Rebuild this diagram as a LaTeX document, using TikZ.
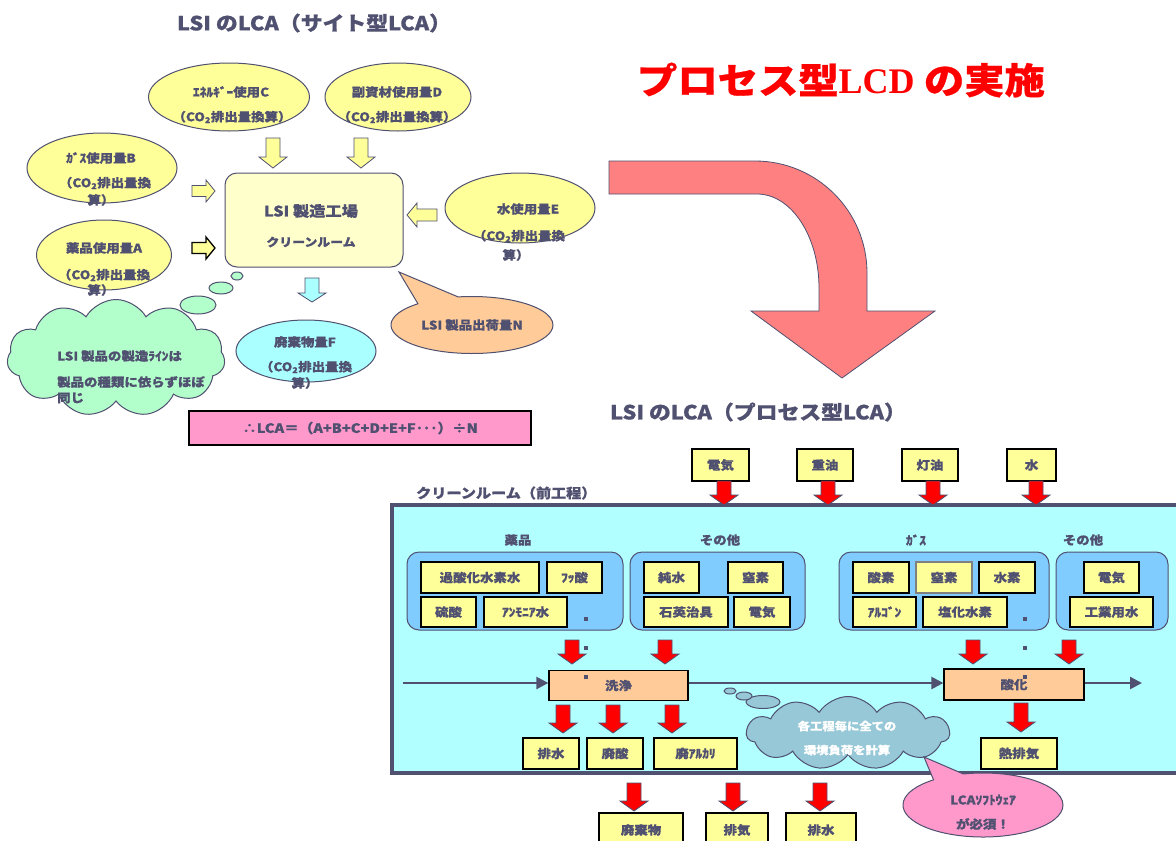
\documentclass[tikz,border=0pt]{standalone}
\usepackage{fontspec}
\setmainfont{Noto Sans CJK JP}[FakeStretch=1.12,BoldFeatures={FakeBold=0.8}]
\newfontfamily\timesb{Liberation Serif}
\usetikzlibrary{shapes.geometric,shapes.symbols,shapes.callouts,arrows.meta}
\definecolor{dk}{RGB}{80,80,112}
\definecolor{ellY}{RGB}{255,255,153}
\definecolor{boxY}{RGB}{255,255,204}
\definecolor{cyanA}{RGB}{170,255,255}
\definecolor{mint}{RGB}{179,255,204}
\definecolor{orangeN}{RGB}{255,204,153}
\definecolor{pinkF}{RGB}{255,153,204}
\definecolor{salmon}{RGB}{255,128,128}
\definecolor{room}{RGB}{178,255,255}
\definecolor{grp}{RGB}{128,204,255}
\definecolor{proc}{RGB}{255,204,153}
\definecolor{cloudB}{RGB}{150,200,215}
\begin{document}
\begin{tikzpicture}[x=1pt,y=-1pt,
  lbl/.style={text=dk,font=\bfseries\fontsize{12}{14}\selectfont,inner sep=0pt},
  ttl/.style={text=dk,font=\bfseries\fontsize{19.5}{22}\selectfont,inner sep=0pt},
  ell/.style={ellipse,draw=dk,line width=1pt,inner sep=0pt},
  ybox/.style={draw=black,line width=1.3pt,fill=ellY,inner sep=0pt,text=dk,
    font=\bfseries\fontsize{12}{14}\selectfont},
  grpbox/.style={draw=dk,line width=1pt,fill=grp,rounded corners=12pt,inner sep=0pt},
  procbox/.style={draw=black,line width=1.3pt,fill=proc,inner sep=0pt,text=dk,
    font=\bfseries\fontsize{12}{14}\selectfont},
  redarr/.style={fill=red,draw=dk,line width=0.8pt},
  yelarr/.style={fill=ellY,draw=dk,line width=0.8pt},
  flow/.style={draw=dk,line width=2.5pt,-{Triangle[length=12pt,width=12pt]}},
  pics/darrow/.style args={#1/#2/#3/#4}{code={%
    \path[pic actions] (-#2,0) -- (#2,0) -- (#2,{#1-#4}) -- (#3,{#1-#4}) -- (0,#1)
      -- (-#3,{#1-#4}) -- (-#2,{#1-#4}) -- cycle;}},
  pics/rarrow/.style args={#1/#2/#3/#4}{code={%
    \path[pic actions] (0,-#2) -- ({#1-#4},-#2) -- ({#1-#4},-#3) -- (#1,0)
      -- ({#1-#4},#3) -- ({#1-#4},#2) -- (0,#2) -- cycle;}},
  pics/larrow/.style args={#1/#2/#3/#4}{code={%
    \path[pic actions] (0,-#2) -- ({#4-#1},-#2) -- ({#4-#1},-#3) -- (-#1,0)
      -- ({#4-#1},#3) -- ({#4-#1},#2) -- (0,#2) -- cycle;}}
]
\useasboundingbox (0,0) rectangle (1176,841);
\clip (0,0) rectangle (1176,841);
\fill[white] (0,0) rectangle (1176,841);

%% ---------------- left part: site type LCA ----------------
\node[ttl] (t1) at (314,23) {LSI のLCA（サイト型LCA）};

\node[ell,fill=ellY,minimum width=161,minimum height=68] (C) at (229,97) {};
\node[lbl] (C1) at (231,92) {ｴﾈﾙｷﾞｰ使用C};
\node[lbl] (C2) at (232,117) {（CO\textsubscript{2}排出量換算）};

\node[ell,fill=ellY,minimum width=146,minimum height=68] (D) at (398,97) {};
\node[lbl] (D1) at (397,92) {副資材使用量D};
\node[lbl] (D2) at (397,117) {（CO\textsubscript{2}排出量換算）};

\node[ell,fill=ellY,minimum width=150,minimum height=70] (B) at (102,168) {};
\node[lbl] (B1) at (101,158) {ｶﾞｽ使用量B};
\node[lbl] (B2) at (105,183) {（CO\textsubscript{2}排出量換};
\node[lbl] (B3) at (101,200) {算）};

\node[ell,fill=ellY,minimum width=135,minimum height=70] (A) at (104,255) {};
\node[lbl] (A1) at (104,248) {薬品使用量A};
\node[lbl] (A2) at (104,275) {（CO\textsubscript{2}排出量換};
\node[lbl] (A3) at (101,290) {算）};

\node[ell,fill=ellY,minimum width=150,minimum height=70] (E) at (520,208) {};
\node[lbl] (E1) at (528,209) {水使用量E};
\node[lbl] (E2) at (519,236) {（CO\textsubscript{2}排出量換};
\node[lbl] (E3) at (516,255) {算）};

\node[draw=dk,line width=1pt,fill=boxY,rounded corners=12pt,minimum width=178,
  minimum height=94,inner sep=0pt] (fab) at (314,220) {};
\node[lbl,font=\bfseries\fontsize{14.5}{16}\selectfont] (fab1) at (311,211) {LSI 製造工場};
\node[lbl,font=\bfseries\fontsize{11.5}{14}\selectfont] (fab2) at (311,242) {クリーンルーム};

% block arrows into the factory
\pic[yelarr] at (273,138) {darrow=30/7/14/11};
\pic[yelarr] at (361,138) {darrow=30/7/14/11};
\pic[yelarr] at (192,191) {rarrow=23/5.5/11/9};
\pic[yelarr,draw=black,line width=1.3pt] at (192,248) {rarrow=23/5.5/11/9};
\pic[yelarr] at (437,215) {larrow=30/6/12/10};
\pic[fill=cyanA,draw=dk,line width=0.8pt] at (312,278) {darrow=24/7/14/9};

\node[ell,fill=cyanA,minimum width=140,minimum height=62] (F) at (306,351) {};
\node[lbl] (F1) at (305,342) {廃棄物量F};
\node[lbl] (F2) at (306,367) {（CO\textsubscript{2}排出量換};
\node[lbl] (F3) at (305,383) {算）};

\node[ellipse callout,callout absolute pointer={(399,272)},callout pointer arc=32,
  draw=dk,line width=1pt,fill=orangeN,minimum width=162,minimum height=57,inner sep=0pt,
  text=dk,font=\bfseries\fontsize{12}{14}\selectfont] (N) at (472,325) {LSI 製品出荷量N};

% green thought cloud
\node[cloud,cloud puffs=11,cloud puff arc=120,aspect=1.86,draw=dk,line width=1pt,
  fill=mint,minimum width=218,minimum height=117,inner sep=0pt] (gcl) at (116,358) {};
\node[ellipse,draw=dk,line width=1pt,fill=mint,minimum width=36,minimum height=18,inner sep=0pt] (gb3) at (198,305) {};
\node[ellipse,draw=dk,line width=1pt,fill=mint,minimum width=24,minimum height=12,inner sep=0pt] (gb2) at (221,288) {};
\node[ellipse,draw=dk,line width=1pt,fill=mint,minimum width=12,minimum height=8,inner sep=0pt] (gb1) at (237,276) {};
\node[lbl,anchor=west] (g1) at (57,356) {LSI 製品の製造ﾗｲﾝは};
\node[lbl,anchor=west] (g2) at (57,382) {製品の種類に依らずほぼ};
\node[lbl,anchor=west] (g3) at (57,398) {同じ};

\node[draw=black,line width=1.3pt,fill=pinkF,minimum width=342,minimum height=34,
  inner sep=0pt,text=dk,font=\bfseries\fontsize{13}{15}\selectfont] (form) at (360,428)
  {∴LCA＝（A+B+C+D+E+F･･･）÷N};

%% ---------------- big title and curved arrow ----------------
\node[text=red,inner sep=0pt,font=\bfseries\fontsize{36}{40}\selectfont] (big) at (841,80)
  {プロセス型{\timesb LCD} の実施};

\filldraw[fill=salmon,draw=dk,line width=0.8pt]
  (609,161) -- (755,161) arc[start angle=-90,end angle=0,radius=112]
  -- (867,311) -- (935,311) -- (842,378) -- (751,311) -- (819,311) -- (819,288)
  arc[start angle=0,end angle=-90,x radius=62,y radius=94]
  -- (609,194) -- cycle;

%% ---------------- right part: process type LCA ----------------
\node[ttl] (t2) at (758,412) {LSI のLCA（プロセス型LCA）};

\node[ybox,minimum width=57,minimum height=32] (tden) at (720.5,465) {電気};
\node[ybox,minimum width=56,minimum height=32] (tjyu) at (825,465) {重油};
\node[ybox,minimum width=56,minimum height=32] (ttou) at (930,465) {灯油};
\node[ybox,minimum width=49,minimum height=32] (tmiz) at (1031.5,465) {水};

\draw[draw=dk,line width=4pt,fill=room] (392,505) rectangle (1200,773);
\node[lbl,anchor=west,font=\bfseries\fontsize{13.5}{15}\selectfont] (crl) at (416,493) {クリーンルーム（前工程）};

\pic[redarr] at (724,481) {darrow=24/7/14/10};
\pic[redarr] at (828,481) {darrow=24/7/14/10};
\pic[redarr] at (933,481) {darrow=24/7/14/10};
\pic[redarr] at (1036,481) {darrow=24/7/14/10};

\node[lbl] (gl1) at (518,540) {薬品};
\node[lbl] (gl2) at (720,540) {その他};
\node[lbl] (gl3) at (916,540) {ｶﾞｽ};
\node[lbl] (gl4) at (1083,540) {その他};

\node[grpbox,minimum width=216,minimum height=78] (g1b) at (515,591) {};
\node[grpbox,minimum width=175,minimum height=78] (g2b) at (717.5,591) {};
\node[grpbox,minimum width=210,minimum height=78] (g3b) at (944,591) {};
\node[grpbox,minimum width=112,minimum height=78] (g4b) at (1112,591) {};

\node[ybox,minimum width=118,minimum height=31] (i1) at (480,577.5) {過酸化水素水};
\node[ybox,minimum width=55,minimum height=31] (i2) at (574.5,577.5) {ﾌｯ酸};
\node[ybox,minimum width=55,minimum height=30] (i3) at (448.5,612) {硫酸};
\node[ybox,minimum width=83,minimum height=30] (i4) at (525.5,612) {ｱﾝﾓﾆｱ水};

\node[ybox,minimum width=55,minimum height=31] (i5) at (671.5,577.5) {純水};
\node[ybox,minimum width=55,minimum height=31] (i6) at (755.5,577.5) {窒素};
\node[ybox,minimum width=84,minimum height=30] (i7) at (686,612) {石英治具};
\node[ybox,minimum width=56,minimum height=30] (i8) at (762,612) {電気};

\node[ybox,minimum width=56,minimum height=31] (i9) at (881,577.5) {酸素};
\node[ybox,draw=gray,minimum width=56,minimum height=31] (i10) at (944,577.5) {窒素};
\node[ybox,minimum width=56,minimum height=31] (i11) at (1007,577.5) {水素};
\node[ybox,minimum width=63,minimum height=30] (i12) at (884.5,612) {ｱﾙｺﾞﾝ};
\node[ybox,minimum width=84,minimum height=30] (i13) at (965,612) {塩化水素};

\node[ybox,minimum width=55,minimum height=31] (i14) at (1111.5,577.5) {電気};
\node[ybox,minimum width=83,minimum height=30] (i15) at (1111.5,612) {工業用水};

% small marks
\fill[dk] (584,617) rectangle (588,621);
\fill[dk] (1023,617) rectangle (1027,621);
\fill[dk] (584,646) rectangle (588,650);
\fill[dk] (1023,646) rectangle (1027,650);

\pic[redarr] at (572,640) {darrow=24/7/14/10};
\pic[redarr] at (665,640) {darrow=24/7/14/10};
\pic[redarr] at (973,640) {darrow=24/7/14/10};
\pic[redarr] at (1069,640) {darrow=24/7/14/10};

\node[procbox,minimum width=139,minimum height=30] (wash) at (618.5,685.5) {洗浄};
\node[procbox,minimum width=140,minimum height=31] (oxi) at (1014,684.5) {酸化};
\fill[dk] (584,675) rectangle (588,679);
\fill[dk] (1023,675) rectangle (1027,679);

\coordinate (fin) at (403,683);
\coordinate (fout) at (1142,683);
\draw[flow] (fin) -- (fin -| wash.west);
\draw[flow] (wash.east |- fin) -- (fin -| oxi.west);
\draw[flow] (oxi.east |- fin) -- (fout);

\pic[redarr] at (563,705) {darrow=28/7/14/10};
\pic[redarr] at (613,705) {darrow=28/7/14/10};
\pic[redarr] at (672,705) {darrow=28/7/14/10};
\pic[redarr] at (1021,703) {darrow=29/7/14/10};

\node[ybox,minimum width=56,minimum height=31] (o1) at (551,753.5) {排水};
\node[ybox,minimum width=56,minimum height=31] (o2) at (615,753.5) {廃酸};
\node[ybox,minimum width=83,minimum height=31] (o3) at (695.5,753.5) {廃ｱﾙｶﾘ};
\node[ybox,minimum width=76,minimum height=31] (o4) at (1019,753.5) {熱排気};

% blue thought cloud
\node[cloud,cloud puffs=11,cloud puff arc=115,aspect=2.8,draw=dk,line width=1pt,
  fill=cloudB,minimum width=203,minimum height=73,inner sep=0pt] (bcl) at (848,733) {};
\node[ellipse,draw=dk,line width=1pt,fill=cloudB,minimum width=34,minimum height=13,inner sep=0pt] (bb3) at (763,702) {};
\node[ellipse,draw=dk,line width=1pt,fill=cloudB,minimum width=16,minimum height=8,inner sep=0pt] (bb2) at (744,696) {};
\node[ellipse,draw=dk,line width=1pt,fill=cloudB,minimum width=12,minimum height=6,inner sep=0pt] (bb1) at (730,691) {};
\node[text=white,inner sep=0pt,font=\bfseries\fontsize{11}{12}\selectfont] (bc1) at (847,726) {各工程毎に全ての};
\node[text=white,inner sep=0pt,font=\bfseries\fontsize{11}{12}\selectfont] (bc2) at (847,750) {環境負荷を計算};

\pic[redarr] at (634,783) {darrow=28/7/14/10};
\pic[redarr] at (733,783) {darrow=28/7/14/10};
\pic[redarr] at (820,783) {darrow=28/7/14/10};

\node[ybox,minimum width=84,minimum height=34] (w1) at (641,830) {廃棄物};
\node[ybox,minimum width=62,minimum height=34] (w2) at (737,830) {排気};
\node[ybox,minimum width=70,minimum height=34] (w3) at (821,830) {排水};

\node[ellipse callout,callout absolute pointer={(924,757)},callout pointer arc=24,
  draw=dk,line width=1pt,fill=pinkF,minimum width=160,minimum height=64,inner sep=0pt] (sw) at (983,805) {};
\node[lbl] (sw1) at (983,800) {LCAｿﾌﾄｳｪｱ};
\node[lbl] (sw2) at (983,824) {が必須！};
\end{tikzpicture}
\end{document}
